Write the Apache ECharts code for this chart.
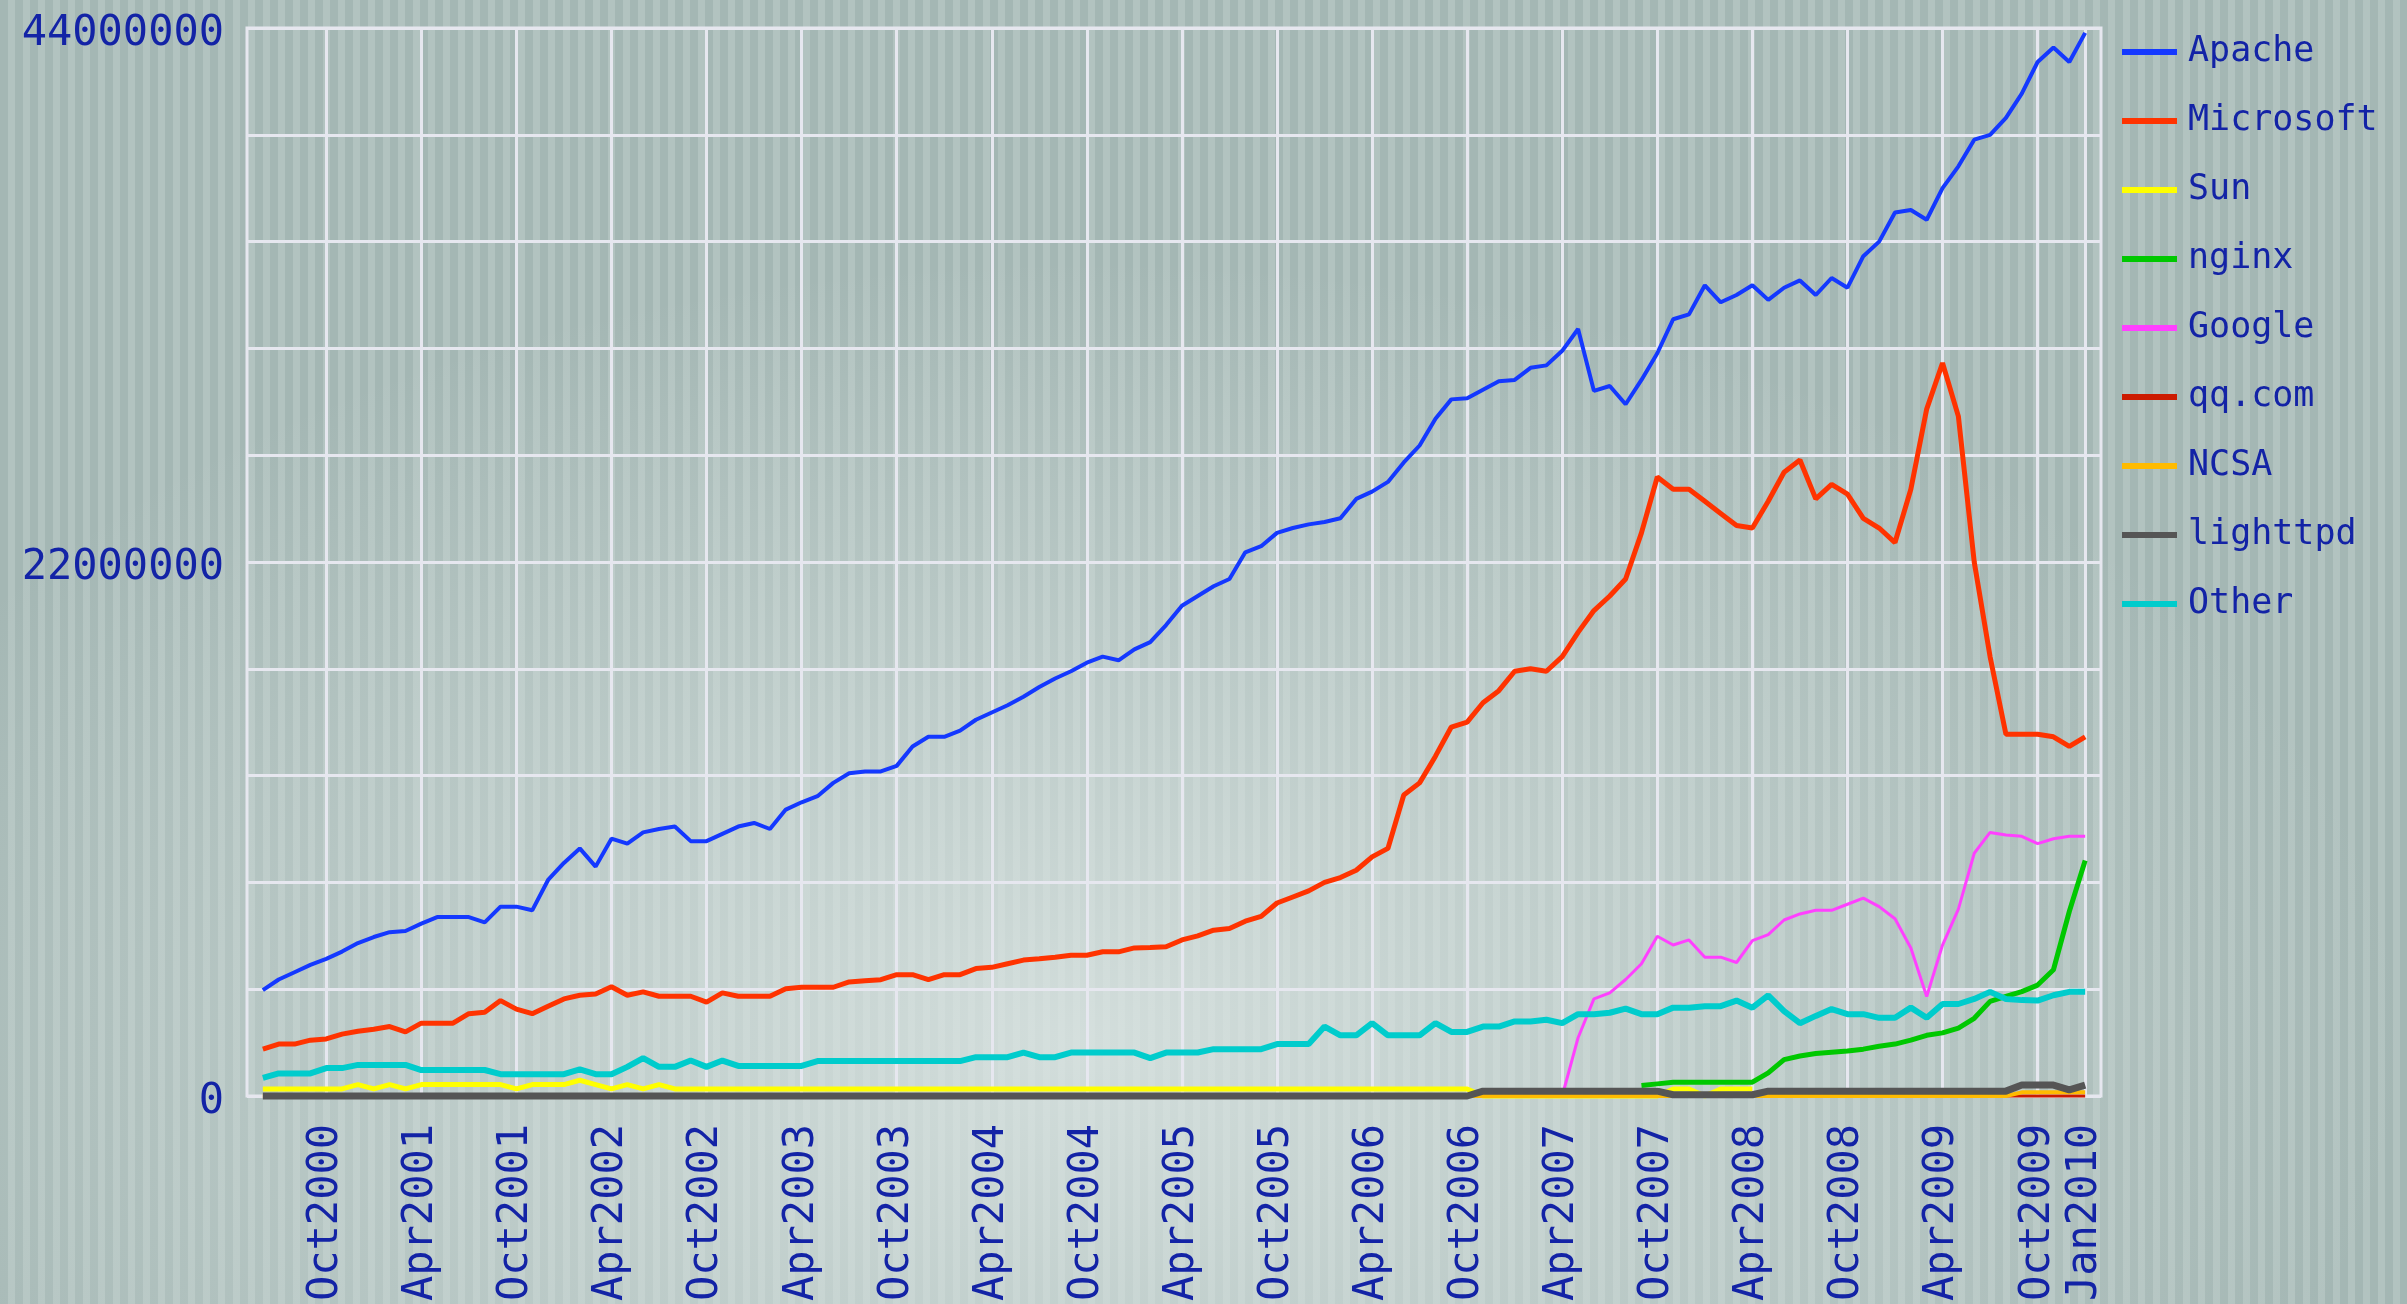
<!DOCTYPE html>
<html>
<head>
<meta charset="utf-8">
<title>Web server survey</title>
<script src="https://cdn.jsdelivr.net/npm/echarts@6/dist/echarts.min.js"></script>
<style>
  html, body { margin: 0; padding: 0; overflow: hidden; }
  #chart {
    width: 2407px;
    height: 1304px;
    background:
      radial-gradient(ellipse 55% 60% at 45% 80%, rgba(222,231,229,0.8), rgba(222,231,229,0) 100%),
      repeating-linear-gradient(90deg, #a4b7b4 0px, #a4b7b4 8px, #b2c3c0 8px, #b2c3c0 15px);
  }
</style>
</head>
<body>
<div id="chart"></div>
<script>
// month categories, May2000 .. Feb2010 (one spare month on each side of the data)
const monthNames = ['Jan', 'Feb', 'Mar', 'Apr', 'May', 'Jun', 'Jul', 'Aug', 'Sep', 'Oct', 'Nov', 'Dec']
const months = []
for (let y = 2000; y <= 2010; y++) {
  for (let m = 0; m < 12; m++) {
    if (y === 2000 && m < 4) continue
    if (y === 2010 && m > 1) break
    months.push(monthNames[m] + y)
  }
}

// values in millions of sites, one per month
const apache = [
  4.36, 4.8, 5.1, 5.4, 5.65, 5.95, 6.3, 6.55, 6.75, 6.8,
  7.1, 7.37, 7.37, 7.37, 7.15, 7.8, 7.8, 7.65, 8.9, 9.6,
  10.2, 9.45, 10.6, 10.4, 10.86, 11.0, 11.1, 10.5, 10.5, 10.8,
  11.1, 11.25, 11.0, 11.8, 12.1, 12.35, 12.9, 13.3, 13.37, 13.37,
  13.6, 14.4, 14.8, 14.8, 15.05, 15.5, 15.8, 16.1, 16.45, 16.85,
  17.2, 17.5, 17.85, 18.1, 17.95, 18.4, 18.7, 19.4, 20.2, 20.6,
  21.0, 21.3, 22.4, 22.65, 23.2, 23.4, 23.55, 23.65, 23.8, 24.6,
  24.9, 25.3, 26.1, 26.8, 27.9, 28.7, 28.75, 29.1, 29.45, 29.5,
  30.0, 30.1, 30.7, 31.6, 29.05, 29.25, 28.5, 29.5, 30.6, 32.0,
  32.2, 33.4, 32.7, 33.0, 33.4, 32.8, 33.3, 33.6, 33.0, 33.7,
  33.3, 34.6, 35.2, 36.4, 36.5, 36.1, 37.4, 38.3, 39.4, 39.6,
  40.3, 41.3, 42.6, 43.2, 42.6, 43.8,
]
const microsoft = [
  1.93, 2.14, 2.14, 2.3, 2.35, 2.55, 2.67, 2.75, 2.86, 2.64,
  3.0, 3.0, 3.0, 3.39, 3.45, 3.93, 3.58, 3.39, 3.7, 4.0,
  4.15, 4.2, 4.5, 4.15, 4.29, 4.11, 4.11, 4.11, 3.87, 4.25,
  4.11, 4.11, 4.11, 4.42, 4.48, 4.48, 4.48, 4.7, 4.75, 4.79,
  5.0, 5.0, 4.79, 5.0, 5.0, 5.25, 5.3, 5.45, 5.6, 5.65,
  5.72, 5.8, 5.8, 5.94, 5.94, 6.1, 6.12, 6.15, 6.43, 6.6,
  6.83, 6.9, 7.2, 7.4, 7.95, 8.2, 8.45, 8.8, 9.0, 9.3,
  9.85, 10.2, 12.4, 12.9, 14.0, 15.2, 15.4, 16.2, 16.7, 17.5,
  17.6, 17.5, 18.1, 19.1, 20.0, 20.6, 21.3, 23.2, 25.5, 25.0,
  25.0, 24.5, 24.0, 23.5, 23.4, 24.5, 25.7, 26.2, 24.6, 25.2,
  24.8, 23.8, 23.4, 22.8, 25.0, 28.3, 30.2, 28.0, 22.0, 18.1,
  14.9, 14.9, 14.9, 14.8, 14.4, 14.8,
]
const other = [
  0.75, 0.93, 0.93, 0.93, 1.15, 1.15, 1.28, 1.28, 1.28, 1.28,
  1.07, 1.07, 1.07, 1.07, 1.07, 0.9, 0.9, 0.9, 0.9, 0.9,
  1.1, 0.9, 0.9, 1.2, 1.56, 1.2, 1.2, 1.46, 1.2, 1.46,
  1.24, 1.24, 1.24, 1.24, 1.24, 1.44, 1.44, 1.44, 1.44, 1.44,
  1.44, 1.44, 1.44, 1.44, 1.44, 1.6, 1.6, 1.6, 1.79, 1.6,
  1.6, 1.79, 1.79, 1.79, 1.79, 1.79, 1.56, 1.79, 1.79, 1.79,
  1.93, 1.93, 1.93, 1.93, 2.14, 2.14, 2.14, 2.86, 2.5, 2.5,
  3.0, 2.5, 2.5, 2.5, 3.0, 2.64, 2.64, 2.86, 2.86, 3.07,
  3.07, 3.14, 3.0, 3.37, 3.37, 3.43, 3.6, 3.37, 3.37, 3.64,
  3.64, 3.7, 3.7, 3.93, 3.64, 4.15, 3.5, 3.0, 3.3, 3.58,
  3.37, 3.37, 3.22, 3.22, 3.64, 3.22, 3.79, 3.79, 4.0, 4.29,
  4.0, 3.95, 3.93, 4.15, 4.29, 4.29,
]
// from Apr2007
const google = [
  0, 2.4, 4.0, 4.25, 4.8, 5.45, 6.58, 6.22, 6.43, 5.72,
  5.72, 5.5, 6.4, 6.65, 7.25, 7.5, 7.65, 7.65, 7.9, 8.15,
  7.8, 7.3, 6.1, 4.1, 6.22, 7.7, 10.0, 10.86, 10.75, 10.7,
  10.4, 10.6, 10.7, 10.7,
]
// from Sep2007
const nginx = [
  0.43, 0.5, 0.57, 0.57, 0.57, 0.57, 0.57, 0.57, 0.95, 1.5,
  1.65, 1.75, 1.8, 1.85, 1.93, 2.05, 2.14, 2.3, 2.5, 2.6,
  2.8, 3.2, 3.9, 4.1, 4.3, 4.57, 5.2, 7.6, 9.7,
]
// from Jun2000 to Apr2008
const sun = [
  0.29, 0.29, 0.29, 0.29, 0.29, 0.29, 0.47, 0.29, 0.47, 0.29,
  0.47, 0.47, 0.47, 0.47, 0.47, 0.47, 0.29, 0.47, 0.47, 0.47,
  0.65, 0.47, 0.29, 0.47, 0.29, 0.47, 0.29, 0.29, 0.29, 0.29,
  0.29, 0.29, 0.29, 0.29, 0.29, 0.29, 0.29, 0.29, 0.29, 0.29,
  0.29, 0.29, 0.29, 0.29, 0.29, 0.29, 0.29, 0.29, 0.29, 0.29,
  0.29, 0.29, 0.29, 0.29, 0.29, 0.29, 0.29, 0.29, 0.29, 0.29,
  0.29, 0.29, 0.29, 0.29, 0.29, 0.29, 0.29, 0.29, 0.29, 0.29,
  0.29, 0.29, 0.29, 0.29, 0.29, 0.29, 0.29, 0, 0, 0,
  0, 0, 0, 0, 0, 0, 0, 0, 0, 0.29,
  0.29, 0, 0.29, 0.29, 0.29,
]
// from Jan2009
const qqcom = [0, 0, 0, 0, 0, 0, 0, 0, 0, 0, 0, 0, 0]
const ncsa = [
  0, 0, 0, 0, 0, 0, 0, 0, 0, 0, 0, 0, 0, 0, 0, 0, 0, 0, 0, 0,
  0, 0, 0, 0, 0, 0, 0, 0, 0, 0, 0, 0, 0, 0, 0, 0, 0, 0, 0, 0,
  0, 0, 0, 0, 0, 0, 0, 0, 0, 0, 0, 0, 0, 0, 0, 0, 0, 0, 0, 0,
  0, 0, 0, 0, 0, 0, 0, 0, 0, 0, 0, 0, 0, 0, 0, 0, 0, 0, 0, 0,
  0, 0, 0, 0, 0, 0, 0, 0, 0, 0, 0, 0, 0, 0, 0, 0, 0, 0, 0, 0,
  0, 0, 0, 0, 0, 0, 0, 0, 0, 0, 0, 0.15, 0.15, 0.15, 0.15, 0.15,
]
const lighttpd = [
  0, 0, 0, 0, 0, 0, 0, 0, 0, 0, 0, 0, 0, 0, 0, 0, 0, 0, 0, 0,
  0, 0, 0, 0, 0, 0, 0, 0, 0, 0, 0, 0, 0, 0, 0, 0, 0, 0, 0, 0,
  0, 0, 0, 0, 0, 0, 0, 0, 0, 0, 0, 0, 0, 0, 0, 0, 0, 0, 0, 0,
  0, 0, 0, 0, 0, 0, 0, 0, 0, 0, 0, 0, 0, 0, 0, 0, 0, 0.2, 0.2, 0.2,
  0.2, 0.2, 0.2, 0.2, 0.2, 0.2, 0.2, 0.2, 0.2, 0.05, 0.05, 0.05, 0.05, 0.05, 0.05, 0.2,
  0.2, 0.2, 0.2, 0.2, 0.2, 0.2, 0.2, 0.2, 0.2, 0.2, 0.2, 0.2, 0.2, 0.2, 0.2,
  0.45, 0.45, 0.45, 0.25, 0.45,
]

const yTicks = [0, 22000000, 44000000]

const seriesDefs = [
  { name: 'Apache', color: '#1438ff', width: 4, values: apache, start: 'Jun2000' },
  { name: 'Microsoft', color: '#ff3300', width: 5, values: microsoft, start: 'Jun2000' },
  { name: 'Sun', color: '#ffff00', width: 5, values: sun, start: 'Jun2000' },
  { name: 'nginx', color: '#00c800', width: 5, values: nginx, start: 'Sep2007' },
  { name: 'Google', color: '#ff40ff', width: 3, values: google, start: 'Apr2007' },
  { name: 'qq.com', color: '#cc1a00', width: 3, values: qqcom, start: 'Jan2009' },
  { name: 'NCSA', color: '#ffbb00', width: 4, values: ncsa, start: 'Jun2000' },
  { name: 'lighttpd', color: '#555555', width: 7, values: lighttpd, start: 'Jun2000' },
  { name: 'Other', color: '#00cccc', width: 6, values: other, start: 'Jun2000' },
]

const toSeriesData = (values, start) => {
  const out = months.map(() => null)
  const s = months.indexOf(start)
  values.forEach((v, k) => {
    out[s + k] = v * 1e6
  })
  return out
}

const isLabelled = (idx, value) => /^(Oct|Apr)/.test(value) || value === 'Jan2010'

const textBlue = '#1323a6'
const gridWhite = '#e6e7ef'
const mono = 'DejaVu Sans Mono'

const chart = echarts.init(document.getElementById('chart'))

chart.setOption({
  animation: false,
  backgroundColor: 'transparent',
  grid: {
    left: 247,
    right: 306,
    top: 28,
    bottom: 207,
    show: true,
    borderColor: gridWhite,
    borderWidth: 3,
  },
  legend: {
    orient: 'vertical',
    left: 2122,
    top: 34,
    padding: 0,
    itemGap: 33,
    itemWidth: 55,
    itemHeight: 6,
    icon: 'rect',
    data: seriesDefs.map((d) => d.name),
    textStyle: {
      fontFamily: mono,
      fontSize: 35,
      lineHeight: 36,
      color: textBlue,
      padding: [0, 0, 0, 6],
    },
  },
  xAxis: {
    type: 'category',
    data: months,
    boundaryGap: false,
    axisLine: { show: false },
    axisTick: { show: false },
    axisLabel: {
      interval: isLabelled,
      rotate: 90,
      margin: 28,
      fontFamily: mono,
      fontSize: 42,
      color: textBlue,
    },
    splitLine: {
      show: true,
      interval: isLabelled,
      lineStyle: { color: gridWhite, width: 3 },
    },
  },
  yAxis: {
    type: 'value',
    min: 0,
    max: 44000000,
    interval: 4400000,
    axisLine: { show: false },
    axisTick: { show: false },
    axisLabel: {
      margin: 23,
      fontFamily: mono,
      fontSize: 42,
      color: textBlue,
      formatter: (v) => (yTicks.includes(Math.round(v)) ? '{v|' + Math.round(v) + '}' : ''),
      rich: {
        v: {
          fontFamily: mono,
          fontSize: 42,
          color: textBlue,
          padding: [12, 0, 0, 0],
        },
      },
    },
    splitLine: {
      show: true,
      lineStyle: { color: gridWhite, width: 3 },
    },
  },
  series: seriesDefs.map((d) => ({
    name: d.name,
    type: 'line',
    data: toSeriesData(d.values, d.start),
    showSymbol: false,
    clip: false,
    color: d.color,
    lineStyle: { color: d.color, width: d.width },
  })),
})
</script>
</body>
</html>
